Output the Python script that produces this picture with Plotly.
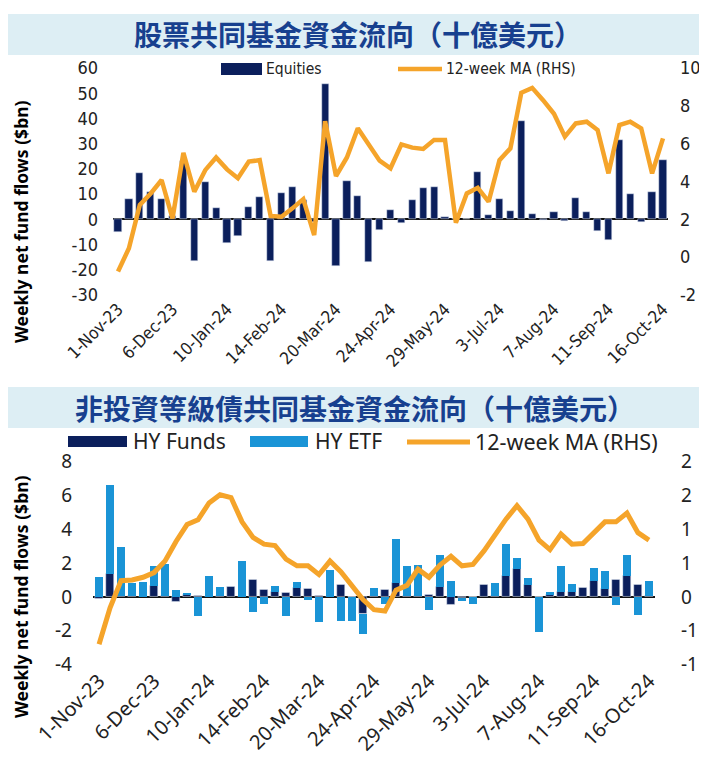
import plotly.graph_objects as go

W, H = 707, 757
OFF = 8  # the page body adds an 8px margin; reference pixel coords are shifted by it

# ---------------- data ----------------
tick_labels = ["1-Nov-23", "6-Dec-23", "10-Jan-24", "14-Feb-24", "20-Mar-24", "24-Apr-24",
               "29-May-24", "3-Jul-24", "7-Aug-24", "11-Sep-24", "16-Oct-24"]

equities = [-5, 8, 18.2, 10.7, 8, 1.5, 23, -16.4, 14.8, 4.6, -9.5, -6.6, 5, 9, -16.5, 10.3,
            12.8, 7.8, -1, 53.8, -18.5, 15.3, 9.4, -16.9, -4.3, 3.6, -1.3, 7.8, 12.5, 13, 0.9,
            0.3, 0.3, 18.6, 1.8, 8, 3.2, 38.9, 2.2, -0.4, 2.9, -0.5, 8.6, 2.9, -4.7, -8.2, 31.5,
            9.9, -1, 10.7, 23.6]
equities_ma = [-0.76, 0.47, 2.76, 3.37, 4.08, 2.05, 5.52, 3.46, 4.6, 5.27, 4.64, 4.17, 5.05,
               5.13, 2.18, 2.14, 2.58, 3.07, 1.17, 7.19, 4.29, 5.27, 6.81, 5.93, 5.1, 4.7, 5.96,
               5.79, 5.72, 6.2, 6.2, 1.82, 3.37, 3.67, 2.93, 5.13, 5.75, 8.69, 8.95, 8.3, 7.58,
               6.37, 7.07, 7.16, 6.72, 4.43, 6.98, 7.16, 6.81, 4.43, 6.28]

hy_funds = [-0.1, 1.4, 0.1, 0.1, 0, 0.65, 0.1, -0.28, 0.12, 0.1, 0, 0.1, 0.6, 0, 1.0, 0.4, 0.3,
            0.25, 0.57, 0.47, 0.1, 0, 0.75, 0, -1.0, 0.05, 0.43, 0.87, 0.1, 0.1, 0.15, 0.63,
            -0.49, -0.05, 0, 0.75, 0.1, 1.24, 1.69, 0.71, 0, 0.16, 0.33, 0.3, 0.57, 0.94, 0.51,
            1.04, 1.26, 0.75, 0.1]
hy_etf = [1.2, 5.25, 2.9, 0.75, 0.9, 1.2, 1.85, 0.45, 0.15, -1.1, 1.24, 0.5, 0, 2.17, -0.87,
          -0.4, 0.35, -1.12, 0.35, -0.16, -1.46, 1.61, -1.42, -1.42, -1.2, 0.5, -0.43, 2.57,
          1.73, 1.83, -0.75, 1.89, 0.94, -0.2, -0.4, 0, 0.75, 1.93, 0.63, 0.41, -2.05, 0.14,
          1.54, 0.49, 0, 0.81, 1.05, -0.47, 1.24, -1.06, 0.86]
hy_ma = [-0.70, -0.16, 0.24, 0.25, 0.29, 0.36, 0.53, 0.82, 1.07, 1.14, 1.39, 1.51, 1.47, 1.11,
         0.88, 0.78, 0.76, 0.56, 0.46, 0.46, 0.33, 0.53, 0.37, 0.17, -0.04, -0.19, -0.21, 0.10,
         0.17, 0.41, 0.29, 0.47, 0.60, 0.46, 0.48, 0.68, 0.93, 1.15, 1.35, 1.15, 0.84, 0.70,
         0.93, 0.78, 0.79, 0.95, 1.11, 1.11, 1.24, 0.95, 0.84]

top_left_ticks = [-30, -20, -10, 0, 10, 20, 30, 40, 50, 60]
top_right_ticks = [-2, 0, 2, 4, 6, 8, 10]
bot_left_ticks = [-4, -2, 0, 2, 4, 6, 8]
bot_right_tickvals = [-1, -0.5, 0, 0.5, 1, 1.5, 2]
bot_right_ticktext = ["-1", "-1", "0", "1", "1", "2", "2"]

title_top = "股票共同基金資金流向（十億美元）"
title_bot = "非投資等級債共同基金資金流向（十億美元）"
ytitle = "Weekly net fund flows ($bn)"

# ---------------- styling ----------------
NAVY = "#0B1F5C"
LIGHT = "#1A94D6"
ORANGE = "#F5A42A"
BANNER = "#DDEEF4"
TITLE_C = "#17408F"
NARROW = "Liberation Sans Narrow, DejaVu Sans Condensed, Arial Narrow, sans-serif"
SANS = "Noto Sans, Open Sans, DejaVu Sans, sans-serif"
CJK = "Noto Sans CJK TC, Noto Sans CJK SC, sans-serif"

x = list(range(len(equities)))
tickpos = x[::5]

def px(v):
    return (v - OFF) / W

def py(v):
    return 1 - (v - OFF) / H

def txt(vals):
    return [str(v) for v in vals]

fig = go.Figure()
fig.add_trace(go.Bar(x=x, y=equities, marker_color=NAVY, width=0.66, xaxis="x", yaxis="y",
                     showlegend=False))
fig.add_trace(go.Scatter(x=x, y=equities_ma, mode="lines", line=dict(color=ORANGE, width=4.5),
                         xaxis="x", yaxis="y2", showlegend=False))
fig.add_trace(go.Bar(x=x, y=hy_funds, marker_color=NAVY, width=0.66, xaxis="x2", yaxis="y3",
                     showlegend=False))
fig.add_trace(go.Bar(x=x, y=hy_etf, marker=dict(color=LIGHT, line=dict(width=0)), width=0.66,
                     xaxis="x2", yaxis="y3", showlegend=False))
fig.add_trace(go.Scatter(x=x, y=hy_ma, mode="lines", line=dict(color=ORANGE, width=5),
                         xaxis="x2", yaxis="y4", showlegend=False))

top_y = [py(295), py(68)]
bot_y = [py(664.5), py(461.7)]

common = dict(showgrid=False, showline=False, ticks="", automargin=False)

fig.update_layout(
    width=W, height=H, margin=dict(l=0, r=0, t=0, b=0, pad=0), autosize=False,
    paper_bgcolor="white", plot_bgcolor="white", barmode="relative", bargap=0,
    xaxis=dict(domain=[px(113), px(668)], anchor="y", range=[-0.46, 50.46],
               tickvals=tickpos, ticktext=tick_labels, tickangle=-45, zeroline=False,
               tickfont=dict(family=NARROW, size=17, color="#222222"), **common),
    yaxis=dict(domain=top_y, range=[-30, 60], tickvals=top_left_ticks,
               ticktext=txt(top_left_ticks),
               zeroline=True, zerolinecolor="#111111", zerolinewidth=2,
               ticklabelstandoff=14,
               tickfont=dict(family=NARROW, size=18, color="#222222"), **common),
    yaxis2=dict(overlaying="y", side="right", anchor="x", range=[-2, 10],
                tickvals=top_right_ticks, ticktext=txt(top_right_ticks), zeroline=False,
                ticklabelstandoff=11,
                tickfont=dict(family=NARROW, size=18, color="#222222"), **common),
    xaxis2=dict(domain=[px(93), px(655)], anchor="y3", range=[-0.55, 50.55],
                tickvals=tickpos, ticktext=tick_labels, tickangle=-45, zeroline=False,
                tickfont=dict(family=SANS, size=20, color="#222222"), **common),
    yaxis3=dict(domain=bot_y, anchor="x2", range=[-4, 8], tickvals=bot_left_ticks,
                ticktext=txt(bot_left_ticks),
                zeroline=True, zerolinecolor="#111111", zerolinewidth=2,
                ticklabelstandoff=20,
                tickfont=dict(family=SANS, size=19, color="#222222"), **common),
    yaxis4=dict(overlaying="y3", side="right", anchor="x2", range=[-1, 2],
                tickvals=bot_right_tickvals, ticktext=bot_right_ticktext, zeroline=False,
                ticklabelstandoff=25,
                tickfont=dict(family=SANS, size=19, color="#222222"), **common),
)

shapes = [
    dict(type="rect", xref="paper", yref="paper", x0=px(8), x1=1, y0=py(55), y1=py(14),
         fillcolor=BANNER, line=dict(width=0), layer="below"),
    dict(type="rect", xref="paper", yref="paper", x0=px(8), x1=1, y0=py(428), y1=py(387),
         fillcolor=BANNER, line=dict(width=0), layer="below"),
    # top legend swatches
    dict(type="rect", xref="paper", yref="paper", x0=px(221), x1=px(262), y0=py(75), y1=py(63),
         fillcolor=NAVY, line=dict(width=0)),
    dict(type="line", xref="paper", yref="paper", x0=px(398), x1=px(442), y0=py(69), y1=py(69),
         line=dict(color=ORANGE, width=4.5)),
    # bottom legend swatches
    dict(type="rect", xref="paper", yref="paper", x0=px(68), x1=px(127), y0=py(447), y1=py(436),
         fillcolor=NAVY, line=dict(width=0)),
    dict(type="rect", xref="paper", yref="paper", x0=px(250), x1=px(308), y0=py(447), y1=py(436),
         fillcolor=LIGHT, line=dict(width=0)),
    dict(type="line", xref="paper", yref="paper", x0=px(407), x1=px(470), y0=py(442), y1=py(442),
         line=dict(color=ORANGE, width=5)),
]
fig.update_layout(shapes=shapes)

def ann(text, xpix, ypix, size, family, color="#222222", xanchor="left", bold=False, angle=0):
    return dict(text=f"<b>{text}</b>" if bold else text, x=px(xpix), y=py(ypix),
                xref="paper", yref="paper", showarrow=False, xanchor=xanchor,
                yanchor="middle", textangle=angle,
                font=dict(family=family, size=size, color=color))

annotations = [
    ann(title_top, 357.5, 34, 28, CJK, TITLE_C, "center", True),
    ann(title_bot, 355, 408, 28, CJK, TITLE_C, "center", True),
    ann("Equities", 264, 69, 15.5, NARROW),
    ann("12-week MA (RHS)", 444, 69, 15.5, NARROW),
    ann("HY Funds", 131, 441, 21, SANS),
    ann("HY ETF", 313, 441, 21, SANS),
    ann("12-week MA (RHS)", 473, 441, 21.5, SANS),
    ann(ytitle, 21, 222, 17.5, SANS, "#000000", "center", True, -90),
    ann(ytitle, 21, 597, 17.5, SANS, "#000000", "center", True, -90),
]
fig.update_layout(annotations=annotations)

fig.write_html("out.html")
